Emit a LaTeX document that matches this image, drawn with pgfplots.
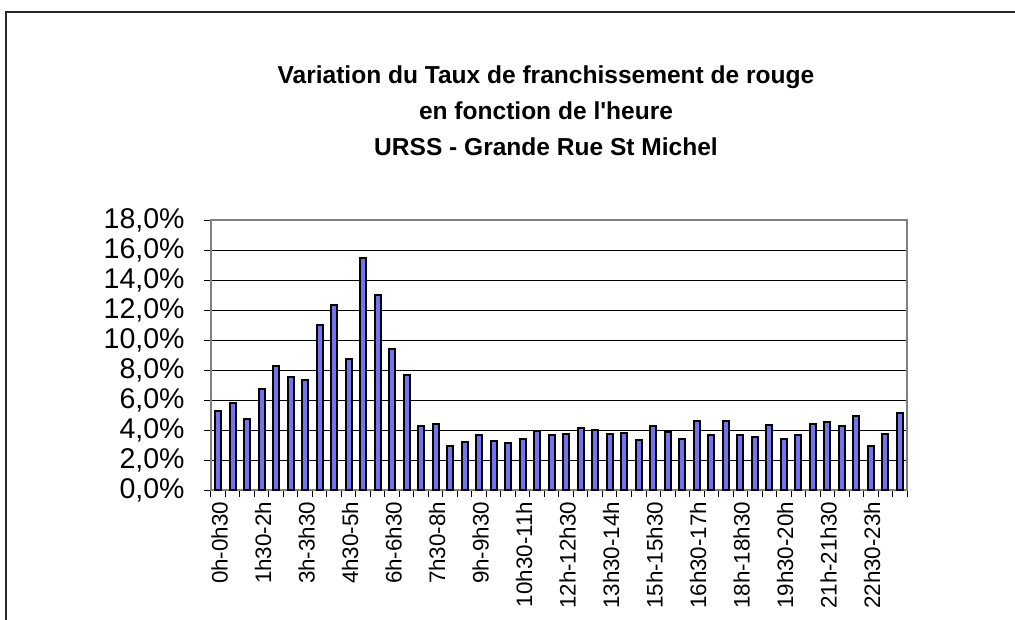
\documentclass[border=0pt]{standalone}
\usepackage{fontspec}
\setmainfont{Liberation Sans}
\newfontfamily\chartfont{Liberation Sans}
\usepackage{pgfplots}
\pgfplotsset{compat=1.18}
\definecolor{barfill}{RGB}{115,115,240}
\definecolor{axgrey}{RGB}{128,128,128}

\begin{document}
\begin{tikzpicture}
\useasboundingbox (0,0) rectangle (761.25pt,464.25pt);
\draw[line width=1.5pt, black!85] (4.5pt,-10pt) -- (4.5pt,455.25pt) -- (780pt,455.25pt);
\node[align=center, font={\chartfont\bfseries\fontsize{18.4}{27}\selectfont}] at (409.5pt,381pt)
  {Variation du Taux de franchissement de rouge\\en fonction de l'heure\\URSS - Grande Rue St Michel};
\begin{axis}[
  at={(158.25pt,96.75pt)}, anchor=south west,
  scale only axis, width=522pt, height=202.5pt,
  xmin=-0.5, xmax=47.5, ymin=0, ymax=18,
  ybar, bar width=4.4pt,
  axis line style={axgrey, line width=1.5pt},
  ymajorgrids, major grid style={black, line width=0.75pt},
  ytick={0,2,...,18},
  yticklabels={{0,0\%},{2,0\%},{4,0\%},{6,0\%},{8,0\%},{10,0\%},{12,0\%},{14,0\%},{16,0\%},{18,0\%}},
  tick pos=left,
  tick align=outside,
  major tick length=5.25pt,
  minor tick length=5.25pt,
  tick style={black, line width=0.75pt},
  xtick={0,3,...,45},
  xticklabels={0h-0h30,1h30-2h,3h-3h30,4h30-5h,6h-6h30,7h30-8h,9h-9h30,10h30-11h,12h-12h30,13h30-14h,15h-15h30,16h30-17h,18h-18h30,19h30-20h,21h-21h30,22h30-23h},
  major x tick style={draw=none},
  minor xtick={-0.5,0.5,...,47.5},
  xticklabel style={rotate=90, anchor=east, yshift=-1pt, font={\chartfont\fontsize{16.8}{18}\selectfont}},
  yticklabel style={xshift=-11pt, font={\chartfont\fontsize{21.4}{22}\selectfont}},
]
\addplot[fill=barfill, draw=black, line width=1.5pt] coordinates {
(0,5.29) (1,5.82) (2,4.71) (3,6.73) (4,8.27) (5,7.53) (6,7.31) (7,11.02)
(8,12.33) (9,8.71) (10,15.49) (11,13.0) (12,9.42) (13,7.69) (14,4.29) (15,4.42)
(16,2.96) (17,3.22) (18,3.67) (19,3.29) (20,3.16) (21,3.4) (22,3.91) (23,3.70)
(24,3.73) (25,4.16) (26,4.02) (27,3.71) (28,3.8) (29,3.36) (30,4.29) (31,3.87)
(32,3.38) (33,4.58) (34,3.69) (35,4.62) (36,3.64) (37,3.53) (38,4.33) (39,3.42)
(40,3.69) (41,4.42) (42,4.56) (43,4.24) (44,4.91) (45,2.96) (46,3.73) (47,5.11)
};
\end{axis}
\end{tikzpicture}
\end{document}
